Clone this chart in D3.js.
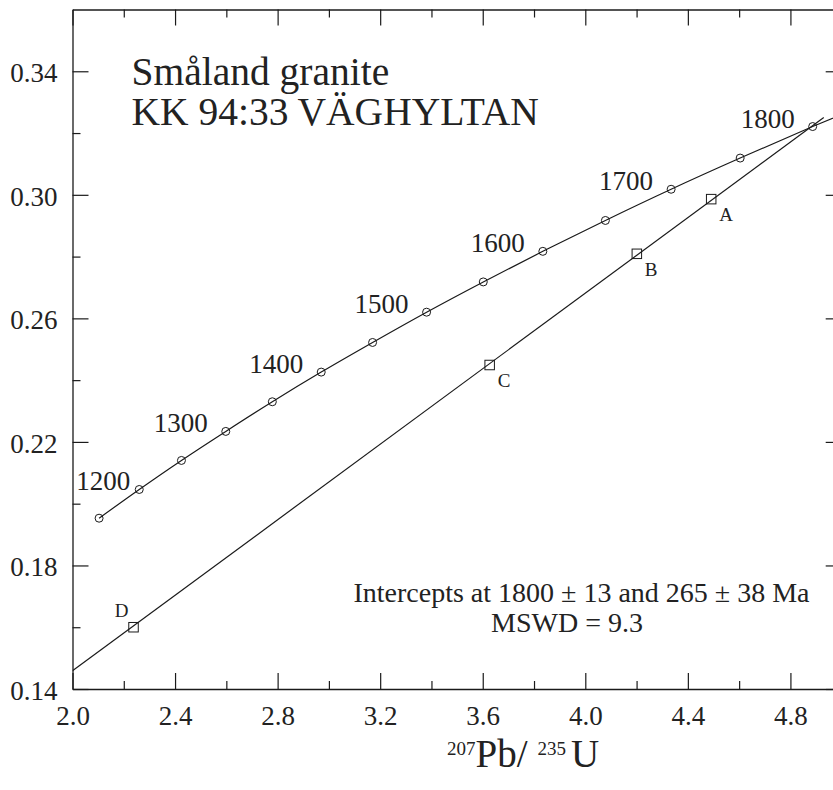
<!DOCTYPE html>
<html>
<head>
<meta charset="utf-8">
<script src="https://cdn.jsdelivr.net/npm/d3@7"></script>
<style>
  html, body { margin: 0; padding: 0; background: #fff; }
  svg { display: block; overflow: hidden; }
</style>
</head>
<body>
<svg id="chart" width="833" height="790"></svg>
<script>
// Concordia ages (Ma) with their 207Pb/235U and 206Pb/238U ratios
const concordiaAge = [1150, 1200, 1250, 1300, 1350, 1400, 1450, 1500, 1550, 1600, 1650, 1700, 1750, 1800, 1850];
const concordiaPbU207 = [2.1037, 2.2603, 2.4249, 2.5978, 2.7794, 2.9700, 3.1704, 3.3810, 3.6021, 3.8344, 4.0784, 4.3347, 4.6040, 4.8868, 5.1840];
const concordiaPbU206 = [0.1953, 0.2046, 0.2140, 0.2234, 0.2330, 0.2426, 0.2522, 0.2620, 0.2718, 0.2817, 0.2917, 0.3018, 0.3119, 0.3221, 0.3324];
// Ages that carry a circle marker, and the ones that get a label
const markedAges = [1150, 1200, 1250, 1300, 1350, 1400, 1450, 1500, 1550, 1600, 1650, 1700, 1750, 1800];
const labelledAges = [1200, 1300, 1400, 1500, 1600, 1700, 1800];

// Zircon fractions
const sampleIds = ["A", "B", "C", "D"];
const samplePbU207 = [4.491, 4.201, 3.627, 2.238];
const samplePbU206 = [0.2986, 0.2809, 0.2449, 0.1600];

// Discordia chord (ends)
const discordiaPbU207 = [2.0, 4.93];
const discordiaPbU206 = [0.1459, 0.3250];

// Axis ticks
const xMajorTicks = [2.0, 2.4, 2.8, 3.2, 3.6, 4.0, 4.4, 4.8];
const xMinorTicks = [2.2, 2.6, 3.0, 3.4, 3.8, 4.2, 4.6];
const yMajorTicks = [0.14, 0.18, 0.22, 0.26, 0.30, 0.34];
const yMinorTicks = [0.16, 0.20, 0.24, 0.28, 0.32];

const titleLines = ["Småland granite", "KK 94:33 VÄGHYLTAN"];
const statLines = ["Intercepts at 1800 ± 13 and 265 ± 38 Ma", "MSWD = 9.3"];

const serif = "'Liberation Serif', 'Times New Roman', Times, serif";
const ink = "#1a1a1a";

const margin = { left: 72.5, top: 9.5 };
const plotW = 769.2, plotH = 679.5;

const svg = d3.select("#chart");
const x = d3.scaleLinear().domain([2.0, 5.0]).range([0, plotW]);
const y = d3.scaleLinear().domain([0.14, 0.36]).range([plotH, 0]);

svg.append("defs").append("clipPath").attr("id", "plot-clip")
  .append("rect").attr("width", plotW).attr("height", plotH);

const g = svg.append("g").attr("transform", `translate(${margin.left},${margin.top})`);

function styleAxis(sel, withDomain) {
  sel.attr("font-family", serif).attr("font-size", 27).attr("color", ink);
  sel.selectAll("line").attr("stroke-width", 1.2);
  if (withDomain) sel.select(".domain").attr("stroke-width", 1.3);
  else sel.select(".domain").remove();
  sel.selectAll("text").attr("fill", "#222");
}

// Major axes (inward ticks) with frame
g.append("g").attr("transform", `translate(0,${plotH})`)
  .call(d3.axisBottom(x).tickValues(xMajorTicks).tickSize(-16).tickSizeOuter(0).tickPadding(17).tickFormat(d3.format(".1f")))
  .call(s => styleAxis(s, true));
g.append("g")
  .call(d3.axisLeft(y).tickValues(yMajorTicks).tickSize(-16).tickSizeOuter(0).tickPadding(15).tickFormat(d3.format(".2f")))
  .call(s => styleAxis(s, true))
  .call(s => s.selectAll("text").attr("dy", "0.38em"));
g.append("g")
  .call(d3.axisTop(x).tickValues(xMajorTicks).tickSize(-16).tickSizeOuter(0).tickFormat(""))
  .call(s => styleAxis(s, true));
g.append("g").attr("transform", `translate(${plotW},0)`)
  .call(d3.axisRight(y).tickValues(yMajorTicks).tickSize(-16).tickSizeOuter(0).tickFormat(""))
  .call(s => styleAxis(s, true));

// Minor ticks on all four sides
g.append("g").attr("transform", `translate(0,${plotH})`)
  .call(d3.axisBottom(x).tickValues(xMinorTicks).tickSize(-8).tickFormat(""))
  .call(s => styleAxis(s, false));
g.append("g")
  .call(d3.axisTop(x).tickValues(xMinorTicks).tickSize(-8).tickFormat(""))
  .call(s => styleAxis(s, false));
g.append("g")
  .call(d3.axisLeft(y).tickValues(yMinorTicks).tickSize(-8).tickFormat(""))
  .call(s => styleAxis(s, false));
g.append("g").attr("transform", `translate(${plotW},0)`)
  .call(d3.axisRight(y).tickValues(yMinorTicks).tickSize(-8).tickFormat(""))
  .call(s => styleAxis(s, false));

const plot = g.append("g").attr("clip-path", "url(#plot-clip)");

// Concordia curve
const concordia = concordiaAge.map((a, i) => ({ age: a, x: concordiaPbU207[i], y: concordiaPbU206[i] }));
plot.append("path")
  .datum(concordia)
  .attr("fill", "none").attr("stroke", ink).attr("stroke-width", 1.2)
  .attr("d", d3.line().x(d => x(d.x)).y(d => y(d.y)).curve(d3.curveMonotoneX));

// Discordia chord
const chord = discordiaPbU207.map((v, i) => ({ x: v, y: discordiaPbU206[i] }));
plot.append("path")
  .datum(chord)
  .attr("fill", "none").attr("stroke", ink).attr("stroke-width", 1.2)
  .attr("d", d3.line().x(d => x(d.x)).y(d => y(d.y)));

// Age markers
const marked = concordia.filter(d => markedAges.includes(d.age));
plot.selectAll("circle.age").data(marked).join("circle")
  .attr("class", "age")
  .attr("cx", d => x(d.x)).attr("cy", d => y(d.y)).attr("r", 4)
  .attr("fill", "none").attr("stroke", ink).attr("stroke-width", 1);

// Age labels, set to the upper-left of their marker
g.selectAll("text.age").data(concordia.filter(d => labelledAges.includes(d.age))).join("text")
  .attr("class", "age")
  .attr("x", d => x(d.x) + (d.age === 1200 ? -9 : -18))
  .attr("y", d => y(d.y) + 1)
  .attr("text-anchor", "end")
  .attr("font-family", serif).attr("font-size", 27).attr("fill", "#222")
  .text(d => d.age);

// Fractions as open squares
const samples = sampleIds.map((id, i) => ({ id, x: samplePbU207[i], y: samplePbU206[i] }));
const side = 9.5;
plot.selectAll("rect.sample").data(samples).join("rect")
  .attr("class", "sample")
  .attr("x", d => x(d.x) - side / 2).attr("y", d => y(d.y) - side / 2)
  .attr("width", side).attr("height", side)
  .attr("fill", "none").attr("stroke", ink).attr("stroke-width", 1);

g.selectAll("text.sample").data(samples).join("text")
  .attr("class", "sample")
  .attr("x", d => d.id === "D" ? x(d.x) - 5 : x(d.x) + 8)
  .attr("y", d => d.id === "D" ? y(d.y) - 10 : y(d.y) + 22)
  .attr("text-anchor", d => d.id === "D" ? "end" : "start")
  .attr("font-family", serif).attr("font-size", 19).attr("fill", "#222")
  .text(d => d.id);

// Sample title
svg.append("g").selectAll("text").data(titleLines).join("text")
  .attr("x", 131.5).attr("y", (d, i) => 85 + i * 40)
  .attr("font-family", serif).attr("font-size", 39.5).attr("fill", "#222")
  .text(d => d);

// Regression statistics
svg.append("g").selectAll("text").data(statLines).join("text")
  .attr("x", (d, i) => i === 0 ? 581.5 : 567).attr("y", (d, i) => 601.5 + i * 30)
  .attr("text-anchor", "middle")
  .attr("font-family", serif).attr("font-size", 28).attr("fill", "#222")
  .text(d => d);

// X axis title: 207Pb/235U
const xt = svg.append("text")
  .attr("x", 447).attr("y", 767)
  .attr("font-family", serif).attr("font-size", 39).attr("fill", "#222");
xt.append("tspan").attr("font-size", 19).attr("dy", -12).text("207");
xt.append("tspan").attr("dy", 12).text("Pb/");
xt.append("tspan").attr("dx", 10).attr("font-size", 19).attr("dy", -12).text("235");
xt.append("tspan").attr("dy", 12).attr("dx", 5).text("U");
</script>
</body>
</html>
